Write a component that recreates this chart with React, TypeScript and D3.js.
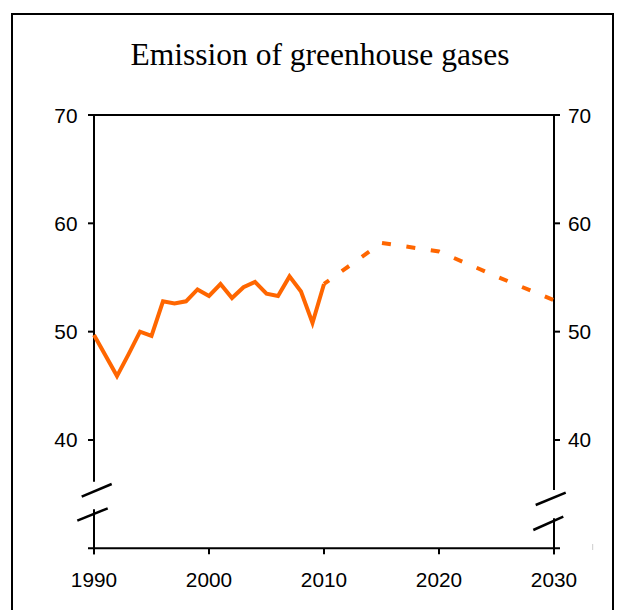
import React from "react";
import * as d3 from "d3";

const title = "Emission of greenhouse gases";
const histYears = [1990,1991,1992,1993,1994,1995,1996,1997,1998,1999,2000,2001,2002,2003,2004,2005,2006,2007,2008,2009,2010];
const histValues = [49.7,47.8,45.9,47.9,50.0,49.6,52.8,52.6,52.8,53.9,53.3,54.4,53.1,54.1,54.6,53.5,53.3,55.1,53.7,50.8,54.4];
const projYears = [2010,2015,2020,2025,2030];
const projValues = [54.4,58.2,57.4,55.1,52.9];
const xTicks = [1990,2000,2010,2020,2030];
const yTicks = [40,50,60,70];

const W = 618, H = 610;
const ORANGE = "#FF6600";

export default function App() {
  const x = d3.scaleLinear().domain([1990, 2030]).range([94, 554]);
  const y = d3.scaleLinear().domain([30, 70]).range([548.3, 115]);
  const line = d3.line<[number, number]>().x(d => x(d[0])).y(d => y(d[1]));
  const hist = line(histYears.map((yr, i) => [yr, histValues[i]] as [number, number])) || "";
  const proj = line(projYears.map((yr, i) => [yr, projValues[i]] as [number, number])) || "";
  const x0 = x(1990), x1 = x(2030), yTop = y(70), yBot = y(30);
  const tick = 6;
  return (
    <svg width={W} height={H} style={{ position: "absolute", left: 0, top: 0, background: "#fff" }}>
      <rect x={12} y={14} width={601} height={620} fill="#fff" stroke="#000" strokeWidth={2} />
      <text x={320} y={65} textAnchor="middle" fontFamily="'Liberation Serif', 'Times New Roman', serif" fontSize={31.5} fill="#000">{title}</text>
      <g stroke="#000" strokeWidth={2} fill="none">
        <line x1={x0 - tick} x2={x1 + tick} y1={yTop} y2={yTop} />
        <line x1={x0 - tick} x2={x1 + tick} y1={yBot} y2={yBot} />
        <line x1={x0} x2={x0} y1={yTop} y2={481.7} />
        <line x1={x0} x2={x0} y1={509.3} y2={yBot + tick} />
        <line x1={81.7} y1={496.7} x2={111.7} y2={484} strokeWidth={2.5} />
        <line x1={77.3} y1={520.7} x2={107.7} y2={508.3} strokeWidth={2.5} />
        <line x1={x1} x2={x1} y1={yTop} y2={490} />
        <line x1={x1} x2={x1} y1={518.3} y2={yBot + tick} />
        <line x1={535.7} y1={505} x2={565.7} y2={492.7} strokeWidth={2.5} />
        <line x1={533.3} y1={530} x2={563.3} y2={516.7} strokeWidth={2.5} />
        {yTicks.map(v => (
          <g key={v}>
            <line x1={x0 - tick} x2={x0} y1={y(v)} y2={y(v)} />
            <line x1={x1} x2={x1 + tick} y1={y(v)} y2={y(v)} />
          </g>
        ))}
        {xTicks.map(v => (
          <line key={v} x1={x(v)} x2={x(v)} y1={yBot} y2={yBot + tick} />
        ))}
      </g>
      <line x1={592.7} x2={592.7} y1={544} y2={550} stroke="#ccc" strokeWidth={1} />
      <g fontFamily="'Liberation Sans', Arial, sans-serif" fontSize={20.8} fill="#000">
        {yTicks.map(v => (
          <g key={v}>
            <text x={77.5} y={y(v) + 7.5} textAnchor="end">{v}</text>
            <text x={568} y={y(v) + 7.5} textAnchor="start">{v}</text>
          </g>
        ))}
        {xTicks.map(v => (
          <text key={v} x={x(v)} y={yBot + 38.5} textAnchor="middle">{v}</text>
        ))}
      </g>
      <path d={hist} fill="none" stroke={ORANGE} strokeWidth={4} />
      <path d={proj} fill="none" stroke={ORANGE} strokeWidth={4} strokeDasharray="9,15.66" strokeDashoffset={2.76} />
    </svg>
  );
}
